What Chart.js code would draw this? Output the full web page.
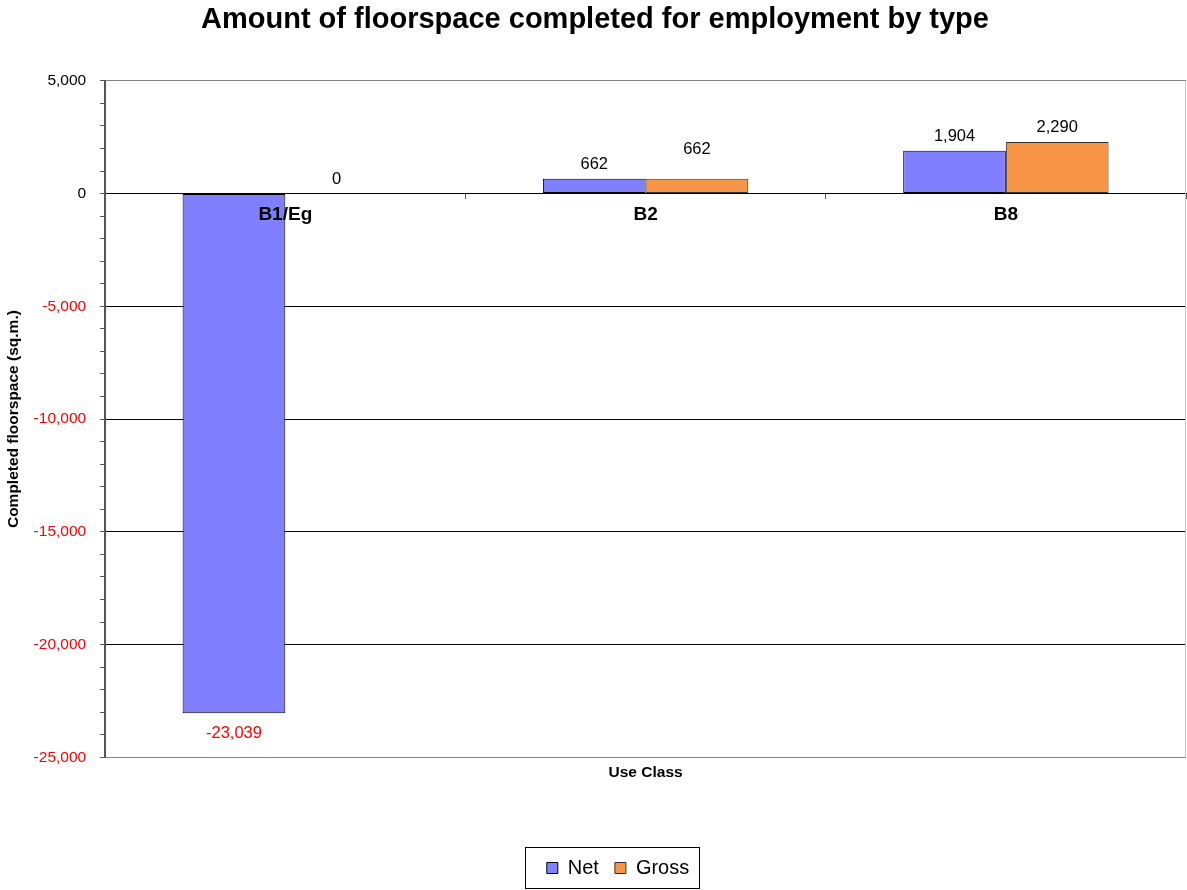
<!DOCTYPE html>
<html>
<head>
<meta charset="utf-8">
<script src="https://cdn.jsdelivr.net/npm/chart.js@4.4.0/dist/chart.umd.min.js"></script>
<style>
html, body { margin: 0; padding: 0; background: #fff; }
</style>
</head>
<body>
<canvas id="chart" width="1187" height="890"></canvas>
<script>
var categories = ['B1/Eg', 'B2', 'B8'];
var netValues = [-23039, 662, 1904];
var grossValues = [0, 662, 2290];
var yMin = -25000;
var yMax = 5000;
var yMajorStep = 5000;
var yMinorStep = 1000;

function fmt(v) { return v.toLocaleString('en-US'); }

Chart.defaults.font.family = '"Liberation Sans", Arial, sans-serif';
Chart.defaults.color = '#000';

// numbers above / below each bar
var valueLabels = {
    id: 'valueLabels',
    afterDatasetsDraw: function(chart) {
        var ctx = chart.ctx;
        ctx.save();
        ctx.font = '16.5px "Liberation Sans", Arial, sans-serif';
        ctx.textAlign = 'center';
        ctx.textBaseline = 'alphabetic';
        chart.data.datasets.forEach(function(ds, di) {
            var meta = chart.getDatasetMeta(di);
            meta.data.forEach(function(bar, i) {
                var v = ds.data[i];
                var y;
                if (v < 0) {
                    ctx.fillStyle = '#ff0000';
                    y = bar.y + 25;
                } else {
                    ctx.fillStyle = '#000';
                    y = bar.y - 10;
                    // a repeated value next door is lifted so the two don't read as one
                    if (di > 0 && chart.data.datasets[di - 1].data[i] === v) y -= 15;
                }
                ctx.fillText(fmt(v), bar.x, y);
            });
        });
        ctx.restore();
    }
};

// legend sits a little right of centre in the original
var legendShift = {
    id: 'legendShift',
    afterLayout: function(chart) {
        chart.legend.left += 23;
        chart.legend.right += 23;
    }
};

// frame round the legend, and the light right edge of the plot
var frames = {
    id: 'frames',
    afterDraw: function(chart) {
        var ctx = chart.ctx;
        var area = chart.chartArea;
        ctx.save();
        ctx.strokeStyle = '#c8c8c8';
        ctx.lineWidth = 1;
        ctx.beginPath();
        ctx.moveTo(Math.round(area.right) - 0.5, area.top);
        ctx.lineTo(Math.round(area.right) - 0.5, area.bottom);
        ctx.stroke();

        var boxes = chart.legend.legendHitBoxes;
        if (boxes && boxes.length) {
            var l = boxes[0].left, r = 0, t = boxes[0].top, b = 0;
            boxes.forEach(function(h) {
                l = Math.min(l, h.left);
                r = Math.max(r, h.left + h.width);
                t = Math.min(t, h.top);
                b = Math.max(b, h.top + h.height);
            });
            var cy = (t + b) / 2;
            ctx.strokeStyle = '#000';
            ctx.strokeRect(Math.round(l - 22) + 0.5, Math.round(cy - 21) + 0.5, Math.round(r - l + 32), 41);
        }
        ctx.restore();
    }
};

new Chart(document.getElementById('chart'), {
    type: 'bar',
    data: {
        labels: categories,
        datasets: [
            {
                label: 'Net',
                data: netValues,
                backgroundColor: '#8080ff',
                borderColor: '#000',
                borderWidth: 1,
                borderSkipped: false
            },
            {
                label: 'Gross',
                data: grossValues,
                backgroundColor: '#f79646',
                borderColor: '#333',
                borderWidth: 1,
                borderSkipped: false
            }
        ]
    },
    options: {
        responsive: false,
        animation: false,
        devicePixelRatio: 1,
        categoryPercentage: 0.57,
        barPercentage: 1,
        layout: { padding: { left: 4, right: 1, top: 0, bottom: 2 } },
        plugins: {
            title: {
                display: true,
                text: 'Amount of floorspace completed for employment by type',
                font: { size: 29, weight: 'bold' },
                color: '#000',
                padding: { top: 3, bottom: 43 }
            },
            legend: {
                position: 'bottom',
                labels: {
                    boxWidth: 11,
                    boxHeight: 11,
                    font: { size: 20 },
                    color: '#000',
                    padding: 16
                }
            },
            tooltip: { enabled: false }
        },
        scales: {
            x: {
                position: { y: 0 },
                grid: { offset: true, drawOnChartArea: false, tickLength: 5, tickColor: '#555' },
                border: { color: '#000', width: 1 },
                ticks: { z: 1, font: { size: 19, weight: 'bold' }, color: '#000', padding: 5 }
            },
            x2: {
                type: 'category',
                position: 'bottom',
                grid: { display: false },
                border: { display: false },
                ticks: { display: false },
                title: {
                    display: true,
                    text: 'Use Class',
                    font: { size: 15.5, weight: 'bold' },
                    color: '#000',
                    padding: { top: -2, bottom: 60 }
                }
            },
            y: {
                min: yMin,
                max: yMax,
                ticks: {
                    stepSize: yMinorStep,
                    autoSkip: false,
                    font: { size: 15.5 },
                    padding: 14,
                    color: function(c) { return c.tick.value < 0 ? '#ff0000' : '#000'; },
                    callback: function(v) { return v % yMajorStep === 0 ? fmt(v) : ''; }
                },
                grid: {
                    tickLength: 5,
                    tickColor: '#555',
                    color: function(c) {
                        var v = c.tick.value;
                        if (v === yMin || v === yMax) return '#808080';
                        return v % yMajorStep === 0 ? '#000' : 'rgba(0,0,0,0)';
                    }
                },
                border: { color: '#555', width: 2 },
                title: {
                    display: true,
                    text: 'Completed floorspace (sq.m.)',
                    font: { size: 15.5, weight: 'bold' },
                    color: '#000',
                    padding: { top: 0, bottom: -3 }
                }
            }
        }
    },
    plugins: [valueLabels, legendShift, frames]
});
</script>
</body>
</html>
